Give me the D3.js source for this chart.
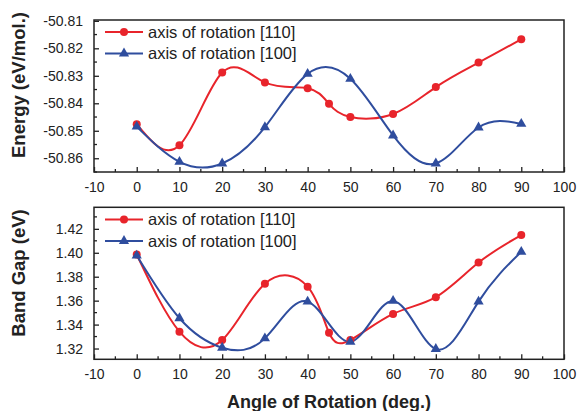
<!DOCTYPE html>
<html><head><meta charset="utf-8">
<script src="https://cdn.jsdelivr.net/npm/d3@7"></script>
<style>
body{margin:0;background:#fff;}
svg{display:block;font-family:"Liberation Sans",Arial,sans-serif;}
</style></head>
<body>
<svg id="c" width="577" height="411"></svg>
<script>
const xTicks = [-10,0,10,20,30,40,50,60,70,80,90,100];
const energyTicks = [-50.86,-50.85,-50.84,-50.83,-50.82,-50.81];
const gapTicks = [1.32,1.34,1.36,1.38,1.40,1.42];
const seriesNames = ["axis of rotation [110]","axis of rotation [100]"];

const angles110 = [0,10,20,30,40,45,50,60,70,80,90];
const energy110 = [-50.8476,-50.8553,-50.8288,-50.8324,-50.8345,-50.8402,-50.8450,-50.8439,-50.8341,-50.8252,-50.8167];
const angles100 = [0,10,20,30,40,50,60,70,80,90];
const energy100 = [-50.8485,-50.8613,-50.8619,-50.8487,-50.8293,-50.8311,-50.8517,-50.8619,-50.8488,-50.8475];

const gap110 = [1.3986,1.3341,1.3271,1.3742,1.3717,1.3332,1.3271,1.3489,1.3629,1.3918,1.4148];
const gap100 = [1.3977,1.3453,1.3207,1.3285,1.3592,1.3257,1.3598,1.3196,1.3592,1.4008];

const RED = "#e8242b", BLUE = "#2f4d9e";
const svg = d3.select("#c");
const x = d3.scaleLinear().domain([-10,100]).range([94,564]);
const hy = f => (d => f(d).replace("\u2212","-"));

function panel(top, bottom, domain, ticks, fmt, s110, s100, yTitle, titleY, legY){
  const y = d3.scaleLinear().domain(domain).range([bottom, top]);
  const g = svg.append("g");
  g.append("rect").attr("x",94).attr("y",top).attr("width",470).attr("height",bottom-top)
    .attr("fill","none").attr("stroke","#222").attr("stroke-width",1.5);
  const xMinor = d3.range(-5,100,10);
  const xa = d3.axisBottom(x).tickValues(xTicks).tickSize(-5).tickPadding(10).tickFormat(hy(d3.format("d")));
  const xg = g.append("g").attr("transform",`translate(0,${bottom})`).call(xa);
  xg.select(".domain").remove();
  xg.selectAll("line").attr("stroke","#222").attr("stroke-width",1.3);
  xg.selectAll("text").attr("font-size",14).attr("fill","#222").attr("font-family","Liberation Sans, Arial, sans-serif");
  g.selectAll(".xm").data(xMinor).enter().append("line")
    .attr("x1",d=>x(d)).attr("x2",d=>x(d)).attr("y1",bottom).attr("y2",bottom-3)
    .attr("stroke","#222").attr("stroke-width",1.3);
  const step = ticks[1]-ticks[0];
  const yMinor = ticks.map(t=>t+step/2).filter(t=>t<domain[1]).concat([ticks[0]-step/2].filter(t=>t>domain[0]));
  const ya = d3.axisLeft(y).tickValues(ticks).tickSize(-5).tickPadding(11).tickFormat(hy(fmt));
  const yg = g.append("g").attr("transform","translate(94,0)").call(ya);
  yg.select(".domain").remove();
  yg.selectAll("line").attr("stroke","#222").attr("stroke-width",1.3);
  yg.selectAll("text").attr("font-size",14).attr("fill","#222").attr("font-family","Liberation Sans, Arial, sans-serif");
  g.selectAll(".ym").data(yMinor).enter().append("line")
    .attr("x1",94).attr("x2",97).attr("y1",d=>y(d)).attr("y2",d=>y(d))
    .attr("stroke","#222").attr("stroke-width",1.3);
  const line = d3.line().x(d=>x(d[0])).y(d=>y(d[1])).curve(d3.curveNatural);
  const d110 = angles110.map((a,i)=>[a,s110[i]]);
  const d100 = angles100.map((a,i)=>[a,s100[i]]);
  g.append("path").datum(d110).attr("d",line).attr("fill","none").attr("stroke",RED).attr("stroke-width",2);
  g.append("path").datum(d100).attr("d",line).attr("fill","none").attr("stroke",BLUE).attr("stroke-width",2);
  g.selectAll(".c").data(d110).enter().append("circle")
    .attr("cx",d=>x(d[0])).attr("cy",d=>y(d[1])).attr("r",4).attr("fill",RED);
  const tri = d3.symbol().type(d3.symbolTriangle).size(45);
  g.selectAll(".t").data(d100).enter().append("path")
    .attr("d",tri).attr("transform",d=>`translate(${x(d[0])},${y(d[1])})`).attr("fill",BLUE);
  [[RED,"c"],[BLUE,"t"]].forEach((s,i)=>{
    const ly = legY + i*21.5;
    g.append("line").attr("x1",105).attr("x2",143).attr("y1",ly).attr("y2",ly).attr("stroke",s[0]).attr("stroke-width",2);
    if(s[1]==="c") g.append("circle").attr("cx",124).attr("cy",ly).attr("r",4).attr("fill",s[0]);
    else g.append("path").attr("d",tri).attr("transform",`translate(124,${ly})`).attr("fill",s[0]);
    g.append("text").attr("x",148).attr("y",ly).attr("dy","0.35em").attr("font-size",16.5).attr("fill","#222").text(seriesNames[i]);
  });
  g.append("text").attr("transform",`translate(25,${titleY}) rotate(-90)`).attr("text-anchor","middle")
    .attr("font-size",18.5).attr("font-weight","bold").attr("fill","#222").text(yTitle);
}

panel(20,172,[-50.865,-50.8097],energyTicks,d3.format(".2f"),energy110,energy100,"Energy (eV/mol.)",85,32);
panel(207.3,359.3,[1.311,1.438],gapTicks,d3.format(".2f"),gap110,gap100,"Band Gap (eV)",273,219.5);

svg.append("text").attr("x",329).attr("y",402).attr("dy","0.35em").attr("text-anchor","middle")
  .attr("font-size",18).attr("font-weight","bold").attr("fill","#222").text("Angle of Rotation (deg.)");
</script>
</body></html>
